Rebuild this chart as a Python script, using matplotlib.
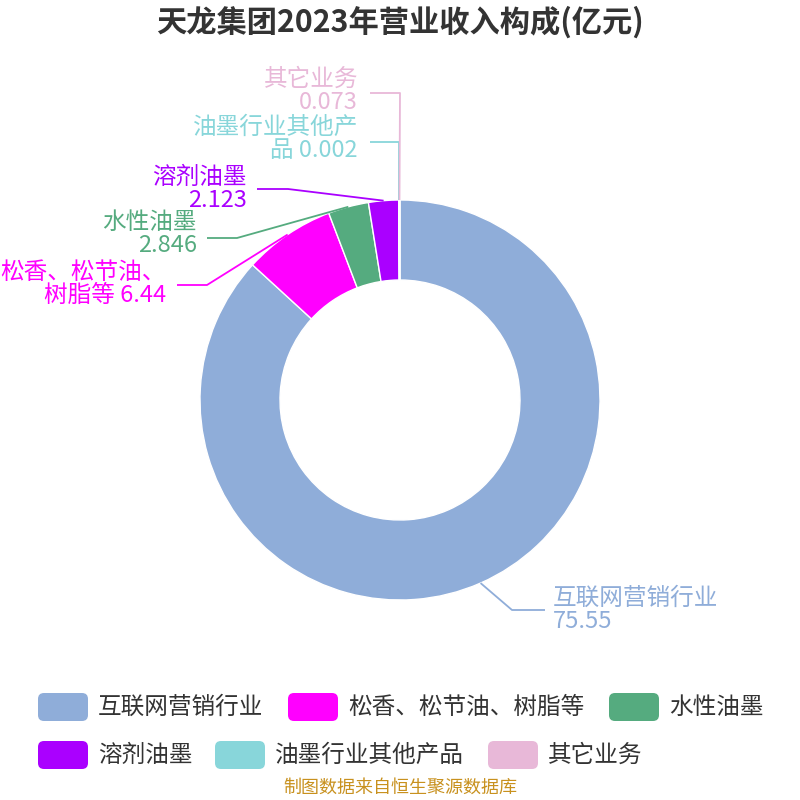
import matplotlib.pyplot as plt
import numpy as np
from matplotlib.patches import FancyBboxPatch

plt.rcParams['font.family'] = ['Noto Sans CJK SC', 'DejaVu Sans']

# 数据
names = ["互联网营销行业", "松香、松节油、树脂等", "水性油墨", "溶剂油墨", "油墨行业其他产品", "其它业务"]
values = [75.55, 6.44, 2.846, 2.123, 0.002, 0.073]
colors = ["#8fadd9", "#ff00ff", "#55ab7f", "#aa00ff", "#88d6da", "#e8b8d8"]
# 标签换行位置 (None = 名称后换行)
breaks = [None, 7, None, None, 7, None]

title = "天龙集团2023年营业收入构成(亿元)"
source = "制图数据来自恒生聚源数据库"

fig = plt.figure(figsize=(8, 8), dpi=100)
ax = fig.add_axes([0, 0, 1, 1])

cx, cy, R = 400, 400, 200
wedges, _ = ax.pie(values, colors=colors, startangle=-90, counterclock=True,
                   radius=R, center=(cx, cy),
                   wedgeprops=dict(width=80, edgecolor="white", linewidth=1))
ax.set_xlim(0, 800)
ax.set_ylim(800, 0)
ax.set_aspect("equal")
ax.axis("off")

# 引导线折点 / 终点 / 文本位置 (像素)
elbows = [(512, 610), (207, 285), (237, 238), (288, 189), (399, 142), (400, 93)]
ends = [(545, 610), (177, 285), (207, 238), (257, 189), (370, 142), (370, 93)]
text_pos = [(553, 610, "left"), (166, 284, "right"), (197, 234, "right"),
            (247, 189, "right"), (358, 139, "right"), (358, 91, "right")]

for i, w in enumerate(wedges):
    mid = np.deg2rad((w.theta1 + w.theta2) / 2)
    sx, sy = cx + R * np.cos(mid), cy + R * np.sin(mid)
    ex, ey = elbows[i]
    tx, ty = ends[i]
    ax.plot([sx, ex, tx], [sy, ey, ty], color=colors[i], lw=1.3, solid_capstyle="butt")
    n = names[i]
    if breaks[i] is None:
        lab = f"{n}\n{values[i]}"
    else:
        lab = f"{n[:breaks[i]]}\n{n[breaks[i]:]} {values[i]}"
    x, y, ha = text_pos[i]
    ax.text(x, y, lab, color=colors[i], fontsize=17, ha=ha, va="center",
            linespacing=1.0, multialignment=ha)

ax.text(400, 22, title, fontsize=21.8, fontweight="bold", color="#333333",
        ha="center", va="center")

# 图例
leg_pos = [(38, 707), (288, 707), (609, 707), (38, 755), (215, 755), (488, 755)]
for i, (lx, ly) in enumerate(leg_pos):
    ax.add_patch(FancyBboxPatch((lx, ly - 14), 50, 28,
                                boxstyle="round,pad=0,rounding_size=6",
                                facecolor=colors[i], edgecolor="none"))
    ax.text(lx + 60, ly, names[i], fontsize=17, color="#333333", ha="left", va="center")

ax.text(400, 788, source, fontsize=13, color="#c8911e", ha="center", va="center")

fig.savefig("out.png", dpi=100)
